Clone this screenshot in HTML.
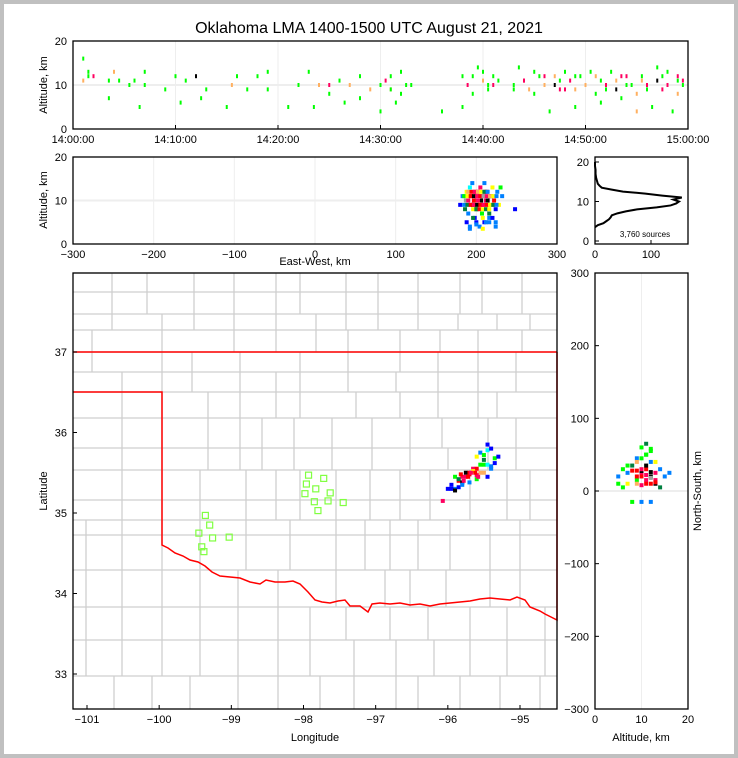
<!DOCTYPE html>
<html><head><meta charset="utf-8"><style>
html,body{margin:0;padding:0;background:#c0c0c0;}
#wrap{position:absolute;left:4px;top:4px;width:730px;height:750px;background:#fff;}
svg{position:absolute;left:0;top:0;font-family:"Liberation Sans",sans-serif;}
</style></head><body>
<div id="wrap"></div>
<svg id="s" width="738" height="758" viewBox="0 0 738 758"></svg>
<script>
// ---- data ----
const timeTicks=["14:00:00","14:10:00","14:20:00","14:30:00","14:40:00","14:50:00","15:00:00"];
const ewTicks=[-300,-200,-100,0,100,200,300];
const altTicks=[0,10,20];
const histXTicks=[0,100];
const lonTicks=[-101,-100,-99,-98,-97,-96,-95];
const latTicks=[33,34,35,36,37];
const nsTicks=[-300,-200,-100,0,100,200,300];
const rAltTicks=[0,10,20];
const palette=["#0000ff","#0080ff","#00ffff","#00ff00","#008040","#ffff00","#ffb060","#ff0000","#ff0060","#000000","#a0a0a0"];
// time series: minutes, altitude km, colour index
const tsMin=[1,1,1.5,1.5,2,3.5,3.5,4,4.5,5.5,6,6.5,7,7,9,10,10.5,11,12,12.5,13,15,15.5,16,17,18,19,19,21,22,23,23.5,24,25,25,26,26.5,27,28,28,29,30,30.5,31,31,31.5,32,32,33,36,38,38.5,39,39.5,40,40,40.5,41,41,43,43.5,44,44.5,45,45,46,46.5,47,47,47.5,48,48.5,49,49,49.5,50,50.5,51,51,51.5,52,52.5,53,53,53.5,54,54.5,55,55,55.5,56,56.5,57,57,57.5,58,58.5,59,59,59.5,59.5,38,39,40.5,41.5,43,44,45.5,46,47.5,48,49,50,51.5,52,53.5,54,55.5,56,57.5,58,59,31,32.5,30];
const tsAlt=[16,11,12,13,12,7,11,13,11,10,11,5,10,13,9,12,6,11,12,7,9,5,10,12,9,12,9,13,5,10,13,5,10,10,8,11,6,10,7,12,9,4,11,9,12,6,13,8,10,4,12,10,8,14,11,13,9,10,12,10,14,11,9,13,8,12,4,10,12,9,13,11,5,9,12,10,13,8,12,6,10,13,9,11,7,12,10,4,8,12,10,5,14,11,9,13,4,12,8,10,11,5,12,10,11,9,11,12,10,11,9,12,10,11,9,12,10,11,9,12,10,11,9,10,10,11,9];
const tsCol=[3,6,3,3,8,3,3,6,3,3,3,3,3,3,3,3,3,3,9,3,3,3,6,3,3,3,3,3,3,3,3,3,6,8,3,3,3,6,3,3,6,3,8,6,3,3,3,3,3,3,3,8,3,3,6,3,3,8,3,3,3,8,6,3,3,8,3,9,6,8,3,8,3,6,3,8,3,3,6,3,8,3,9,6,3,8,3,6,6,3,8,3,3,9,8,3,3,8,6,3,8,3,3,3,3,3,8,3,6,3,8,3,6,3,3,8,3,6,3,3,8,3,3,3,3];
// east-west vs altitude
const ewX=[180,183,186,188,190,192,194,195,197,198,200,200,202,203,205,206,207,208,210,210,212,213,215,216,218,220,222,224,226,228,230,232,187,190,193,196,199,202,205,208,211,214,217,220,196,200,204,208,212,216,190,194,198,202,206,210,214,188,192,196,200,204,208,212,216,220,224,248,185,189,193,197,201,205,209,213,217,221,225,185,189,193,197,201,205,209,213,217,221,225,192,200,208,216,224];
const ewAlt=[9,11,8,12,7,13,9,14,10,6,11,8,12,9,13,10,7,11,14,5,10,12,9,6,11,13,10,8,12,9,13,11,10,10,11,9,12,10,11,9,12,10,11,9,8,8,8,8,8,8,12,12,12,12,12,12,12,5,4,6,5,4,6,5,7,6,5,8,9,9,9,9,9,9,9,9,9,9,9,11,11,11,11,11,11,11,11,11,11,11,3.5,4.5,3.5,5,4];
const ewCol=[0,1,4,5,1,2,6,1,7,0,8,4,7,5,8,9,3,7,1,0,8,7,6,1,4,5,7,0,1,5,3,1,10,8,7,9,7,8,10,7,8,9,7,6,5,4,7,5,4,5,6,7,8,6,5,4,1,0,1,4,0,1,5,1,4,0,1,0,1,4,7,8,9,7,8,7,5,4,1,3,5,7,9,8,7,10,8,6,5,1,1,1,5,1,1];
// map: lon, lat
const mLon=[-96.07,-95.95,-95.9,-95.85,-95.8,-95.75,-95.7,-95.65,-95.6,-95.55,-95.5,-95.45,-95.4,-95.9,-95.85,-95.8,-95.75,-95.7,-95.65,-95.6,-95.55,-95.5,-95.6,-95.55,-95.5,-95.45,-95.4,-95.35,-95.5,-95.45,-95.4,-95.35,-96.0,-95.95,-95.9,-95.85,-95.8,-95.7,-95.6,-95.45,-95.3,-95.72,-95.68,-95.62,-95.78,-95.82,-95.58];
const mLat=[35.15,35.35,35.3,35.4,35.45,35.5,35.5,35.55,35.55,35.5,35.6,35.6,35.55,35.45,35.42,35.38,35.45,35.48,35.52,35.47,35.6,35.66,35.7,35.75,35.72,35.78,35.8,35.68,35.5,35.45,35.58,35.62,35.3,35.3,35.28,35.32,35.35,35.38,35.42,35.85,35.7,35.45,35.5,35.5,35.4,35.48,35.45];
const mCol=[8,0,1,7,8,9,7,8,7,6,3,2,1,3,4,9,8,7,5,8,3,4,5,1,3,2,0,3,6,0,1,0,0,0,9,0,1,1,3,0,0,7,8,7,8,7,8];
// stations (lon, lat)
const stLon=[-97.93,-97.72,-97.96,-97.83,-97.98,-97.63,-97.85,-97.66,-97.45,-97.8,-99.36,-99.3,-99.45,-99.26,-99.03,-99.41,-99.38];
const stLat=[35.47,35.43,35.36,35.3,35.24,35.25,35.14,35.15,35.13,35.03,34.97,34.85,34.75,34.69,34.7,34.58,34.52];
// right panel: alt km, NS km
const rAlt=[5,6,7,8,9,10,10,11,11,12,12,13,13,14,5,7,9,10,11,12,13,15,6,8,10,12,14,10,11,12,9,11,13,8,10,12,11,12,9,10,13,16,7,9,11,10,11,12,9];
const rNS=[20,30,25,35,15,25,45,30,15,20,55,40,25,30,10,10,20,30,35,10,15,20,5,-15,-15,-15,5,60,50,40,10,10,10,28,22,18,65,58,45,8,12,25,35,40,50,20,22,26,28];
const rCol=[1,3,1,4,3,9,3,7,8,9,3,5,8,1,3,5,7,8,9,7,8,1,3,3,1,1,4,3,3,1,6,7,9,7,8,10,4,3,1,8,7,1,3,6,3,7,8,9,7];
// altitude histogram
const hAlt=[3.5,4,4.5,5,5.5,6,6.5,7,7.5,8,8.5,9,9.5,10,10.5,11,11.5,12,12.5,13,13.5,14,14.5,15,15.5,16,17,18,19,20];
const hCnt=[0,5,15,20,25,28,30,40,55,75,110,135,145,150,140,155,120,90,50,30,12,8,5,4,3,2,1,1,0,0];

const S=document.getElementById('s');
const NS="http://www.w3.org/2000/svg";
function el(t,a,p){const e=document.createElementNS(NS,t);for(const k in a)e.setAttribute(k,a[k]);(p||S).appendChild(e);return e;}
function txt(x,y,s,a){const e=el('text',Object.assign({x:x,y:y,'font-size':11,fill:'#000'},a||{}));e.textContent=s;return e;}
function lin(d0,d1,r0,r1){return v=>r0+(v-d0)/(d1-d0)*(r1-r0);}

const t=txt(369,33,"Oklahoma LMA 1400-1500 UTC August 21, 2021",{'font-size':16,'text-anchor':'middle'});


function frame(name){const g=el('g',{});return g;}
function border(g,x,y,w,h){el('rect',{x:x,y:y,width:w,height:h,fill:'none',stroke:'#000','stroke-width':1.3},g);}

// ---- panel 1: time series ----
{const g=frame('time-altitude-panel');
 const X=lin(0,60,73,688),Y=lin(0,20,129,41);
 timeTicks.forEach((s,i)=>{const x=X(i*10);el('line',{x1:x,y1:41,x2:x,y2:129,stroke:'#eee'},g);g.appendChild(txt(x,143,s,{'text-anchor':'middle'}));el('line',{x1:x,y1:125,x2:x,y2:129,stroke:'#000'},g);});
 altTicks.forEach(v=>{const y=Y(v);if(v==10)el('line',{x1:73,y1:y,x2:688,y2:y,stroke:'#eee','stroke-width':2},g);g.appendChild(txt(67,y+4,v,{'text-anchor':'end'}));});
 tsMin.forEach((m,i)=>{const r=el('rect',{x:X(m)-1,y:Y(tsAlt[i])-2,width:2,height:4,fill:palette[tsCol[i]]},g);
  });
 border(g,73,41,615,88);
 const yl=txt(47,85,"Altitude, km",{'text-anchor':'middle',transform:'rotate(-90 47 85)'});g.appendChild(yl);
 }

// ---- panel 2: east-west vs altitude ----
{const g=frame('ew-altitude-panel');
 const X=lin(-300,300,73,557),Y=lin(0,20,244,157);
 ewTicks.forEach(v=>{const x=X(v);el('line',{x1:x,y1:157,x2:x,y2:244,stroke:'#eee'},g);g.appendChild(txt(x,258,v<0?'\u2212'+(-v):v,{'text-anchor':'middle'}));});
 altTicks.forEach(v=>{const y=Y(v);if(v==10)el('line',{x1:73,y1:y,x2:557,y2:y,stroke:'#eee','stroke-width':2},g);g.appendChild(txt(67,y+4,v,{'text-anchor':'end'}));});
 ewX.forEach((v,i)=>{const r=el('rect',{x:X(v)-2,y:Y(ewAlt[i])-2,width:4,height:4,fill:palette[ewCol[i]]},g);
  });
 border(g,73,157,484,87);
 g.appendChild(txt(47,200,"Altitude, km",{'text-anchor':'middle',transform:'rotate(-90 47 200)'}));
 const xl=txt(315,265,"East-West, km",{'text-anchor':'middle'});g.appendChild(xl);
 }

// ---- histogram ----
{const g=frame('altitude-histogram');
 const X=lin(0,100,595,651),Y=lin(0,20,241,162);
 histXTicks.forEach(v=>{g.appendChild(txt(X(v),258,v,{'text-anchor':'middle'}));el('line',{x1:X(v),y1:240,x2:X(v),y2:244,stroke:'#000'},g);});
 altTicks.forEach(v=>{g.appendChild(txt(589,Y(v)+4,v,{'text-anchor':'end'}));el('line',{x1:595,y1:Y(v),x2:599,y2:Y(v),stroke:'#000'},g);});
 const pts=hAlt.map((a,i)=>X(hCnt[i])+','+Y(a)).join(' ');
 const pl=el('polyline',{points:pts,fill:'none',stroke:'#000','stroke-width':2},g);
 
 border(g,595,157,93,87);
 g.appendChild(txt(645,237,"3,760 sources",{'text-anchor':'middle','font-size':8}));}

// ---- map ----
{const g=frame('map-panel');
 const X=lin(-101,-95,87,520),Y=lin(37,33,352,674);
 const rows=[[273,292,[112,147,194,234,276,300,346,378,418,460,482,522]],[292,314,[112,147,194,234,276,300,346,378,418,460,482,522]],[314,330,[112,162,194,234,276,316,346,378,418,458,497,530]],[330,352,[92,162,234,276,316,348,400,440,478,522]],[352,372,[92,162,192,240,300,348,400,438,478,516]],[372,392,[122,162,192,240,276,300,348,396,438,478,516]],[392,418,[122,162,208,240,276,300,356,400,438,478,497]],[418,448,[122,162,208,240,262,294,332,372,410,442,488,516]],[448,470,[122,162,208,240,262,294,332,372,410,448,488,516]],[470,500,[122,162,200,246,276,300,336,370,400,430,470,507,530]],[500,520,[122,162,200,246,276,300,336,370,400,430,470,507,530]],[520,535,[86,122,162,200,246,290,336,365,390,418,450,490,520]],[535,570,[86,122,162,200,246,290,336,365,390,418,450,490,520]],[570,607,[86,122,162,200,238,278,336,385,410,446,490,520]],[607,640,[86,122,162,200,238,278,310,346,390,428,470,507,545]],[640,676,[86,122,162,200,238,278,310,354,396,434,470,507,545]],[676,709,[114,152,190,238,278,320,354,396,418,460,500,540]]];
 rows.forEach(r=>{el('line',{x1:73,y1:r[0],x2:557,y2:r[0],stroke:'#cfcfcf','stroke-width':1.3},g);r[2].forEach(x=>el('line',{x1:x,y1:r[0],x2:x,y2:r[1],stroke:'#cfcfcf','stroke-width':1.3},g));});
 const ok=el('path',{d:'M73,352 L557,352 M73,392 L162,392 L162,545 L168,548 L175,553 L183,556 L190,560 L198,562 L205,566 L212,572 L220,576 L230,577 L240,578 L250,582 L260,584 L266,580 L275,582 L285,582 L293,581 L300,584 L308,592 L315,600 L322,602 L330,603 L338,601 L345,600 L350,606 L360,606 L368,612 L372,604 L380,603 L390,604 L400,603 L410,605 L420,604 L430,606 L440,604 L450,603 L460,602 L470,601 L480,599 L490,598 L500,599 L510,600 L517,597 L525,600 L530,607 L540,611 L545,614 L551,617 L557,620 L557,352',fill:'none',stroke:'#ff0000','stroke-width':1.5},g);
 
 lonTicks.forEach(v=>{const x=X(v);el('line',{x1:x,y1:705,x2:x,y2:709,stroke:'#000'},g);g.appendChild(txt(x,723,'\u2212'+(-v),{'text-anchor':'middle'}));});
 latTicks.forEach(v=>{const y=Y(v);el('line',{x1:73,y1:y,x2:77,y2:y,stroke:'#000'},g);g.appendChild(txt(67,y+4,v,{'text-anchor':'end'}));});
 stLon.forEach((v,i)=>{const r=el('rect',{x:X(v)-3,y:Y(stLat[i])-3,width:6,height:6,fill:'none',stroke:'#80ff40','stroke-width':1.2},g);
  });
 mLon.forEach((v,i)=>{const r=el('rect',{x:X(v)-2,y:Y(mLat[i])-2,width:4,height:4,fill:palette[mCol[i]]},g);
  });
 border(g,73,273,484,436);
 g.appendChild(txt(47,491,"Latitude",{'text-anchor':'middle',transform:'rotate(-90 47 491)'}));
 g.appendChild(txt(315,741,"Longitude",{'text-anchor':'middle'}));}

// ---- right panel ----
{const g=frame('altitude-ns-panel');
 const X=lin(0,20,595,688),Y=lin(-300,300,709,273);
 rAltTicks.forEach(v=>{const x=X(v);el('line',{x1:x,y1:273,x2:x,y2:709,stroke:'#eee'},g);g.appendChild(txt(x,723,v,{'text-anchor':'middle'}));});
 nsTicks.forEach(v=>{const y=Y(v);if(v==0)el('line',{x1:595,y1:y,x2:688,y2:y,stroke:'#eee','stroke-width':2},g);el('line',{x1:595,y1:y,x2:599,y2:y,stroke:'#000'},g);g.appendChild(txt(589,y+4,v<0?'\u2212'+(-v):v,{'text-anchor':'end'}));});
 rAlt.forEach((v,i)=>{const r=el('rect',{x:X(v)-2,y:Y(rNS[i])-2,width:4,height:4,fill:palette[rCol[i]]},g);
  });
 border(g,595,273,93,436);
 g.appendChild(txt(641,741,"Altitude, km",{'text-anchor':'middle'}));
 g.appendChild(txt(701,491,"North-South, km",{'text-anchor':'middle',transform:'rotate(-90 701 491)'}));}
</script>
</body></html>
